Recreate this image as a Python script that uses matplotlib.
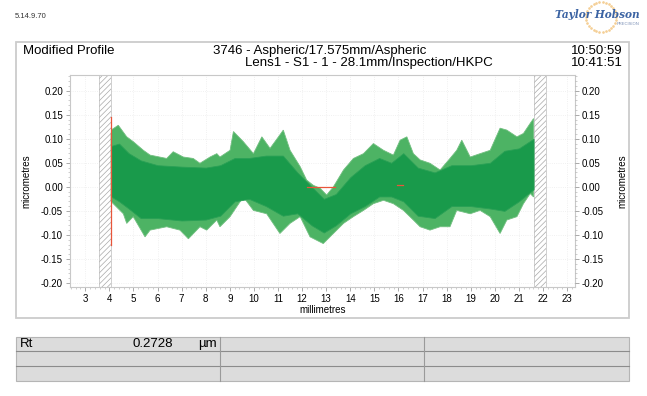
import numpy as np
import matplotlib
matplotlib.use("Agg")
import matplotlib.pyplot as plt
from matplotlib.patches import Rectangle
from matplotlib.ticker import MultipleLocator, FixedLocator

plt.rcParams['font.family'] = ['Liberation Sans', 'DejaVu Sans']
plt.rcParams['hatch.linewidth'] = 0.5

# ---------------- data ----------------
x_ticks = list(range(3, 24))
y_ticks = [-0.20, -0.15, -0.10, -0.05, 0.00, 0.05, 0.10, 0.15, 0.20]

# upper envelope of the profile spikes (mm, micrometres)
upper_x = [4.07, 4.10, 4.37, 4.72, 4.99, 5.41, 5.69, 6.38, 6.65, 7.07, 7.48, 7.76, 8.18,
           8.46, 8.59, 9.01, 9.15, 9.56, 9.98, 10.33, 10.67, 11.02, 11.22, 11.50, 11.92,
           12.19, 12.47, 12.75, 13.02, 13.30, 13.72, 14.13, 14.55, 14.96, 15.38, 15.79,
           16.07, 16.35, 16.62, 16.90, 17.31, 17.73, 18.14, 18.42, 18.63, 18.98, 19.39,
           19.81, 20.22, 20.50, 20.92, 21.19, 21.47, 21.61]
upper_y = [0.110, 0.119, 0.128, 0.104, 0.094, 0.076, 0.066, 0.059, 0.073, 0.062, 0.059,
           0.049, 0.062, 0.069, 0.062, 0.076, 0.115, 0.094, 0.069, 0.104, 0.080, 0.104,
           0.118, 0.076, 0.042, 0.014, 0.003, -0.003, -0.017, 0.000, 0.035, 0.059, 0.069,
           0.090, 0.076, 0.066, 0.097, 0.104, 0.069, 0.056, 0.049, 0.035, 0.059, 0.076,
           0.097, 0.062, 0.069, 0.076, 0.122, 0.118, 0.104, 0.111, 0.132, 0.142]

# lower envelope of the profile spikes
lower_x = [4.07, 4.16, 4.30, 4.58, 4.72, 4.99, 5.48, 5.69, 6.38, 6.93, 7.28, 7.76, 8.04,
           8.46, 8.59, 9.01, 9.56, 9.98, 10.53, 11.08, 11.50, 11.92, 12.33, 12.88, 13.30,
           13.72, 14.13, 14.55, 14.96, 15.38, 15.79, 16.21, 16.62, 16.90, 17.31, 17.73,
           18.14, 18.42, 18.98, 19.39, 19.81, 20.22, 20.50, 20.92, 21.19, 21.47, 21.61]
lower_y = [-0.030, -0.035, -0.042, -0.056, -0.076, -0.062, -0.104, -0.090, -0.083, -0.090,
           -0.108, -0.083, -0.090, -0.069, -0.083, -0.062, -0.021, -0.049, -0.056, -0.097,
           -0.076, -0.062, -0.104, -0.118, -0.097, -0.076, -0.062, -0.049, -0.035, -0.028,
           -0.035, -0.049, -0.069, -0.083, -0.090, -0.083, -0.083, -0.049, -0.056, -0.049,
           -0.062, -0.097, -0.069, -0.062, -0.035, -0.014, -0.021]

# solid core of the profile band
core_x = [4.07, 4.4, 4.8, 5.3, 6.0, 7.0, 8.0, 8.6, 9.2, 9.8, 10.5, 11.2, 11.8, 12.4,
          12.9, 13.4, 14.0, 14.6, 15.2, 15.7, 16.2, 16.8, 17.5, 18.2, 19.0, 19.8, 20.4,
          21.0, 21.61]
core_hi = [0.085, 0.090, 0.070, 0.055, 0.045, 0.042, 0.040, 0.045, 0.060, 0.060, 0.065,
           0.065, 0.030, 0.000, -0.025, -0.015, 0.020, 0.045, 0.060, 0.050, 0.070, 0.040,
           0.030, 0.045, 0.045, 0.050, 0.075, 0.080, 0.100]
core_lo = [-0.020, -0.030, -0.045, -0.065, -0.065, -0.070, -0.068, -0.060, -0.030, -0.025,
           -0.040, -0.060, -0.055, -0.080, -0.095, -0.080, -0.055, -0.040, -0.020, -0.020,
           -0.030, -0.060, -0.065, -0.040, -0.040, -0.045, -0.050, -0.030, -0.005]

# excluded (hatched) regions
excluded = [(3.55, 4.06), (21.64, 22.14)]

# red marker lines
rt_x = [4.07, 4.07]
rt_y = [-0.121, 0.146]
mark1_x = [12.19, 13.36]
mark1_y = [0.0, 0.0]
mark2_x = [15.93, 16.19]
mark2_y = [0.004, 0.004]

header_left = "Modified Profile"
header_mid1 = "3746 - Aspheric/17.575mm/Aspheric"
header_mid2 = "Lens1 - S1 - 1 - 28.1mm/Inspection/HKPC"
time1 = "10:50:59"
time2 = "10:41:51"
rt_label, rt_value, rt_unit = "Rt", "0.2728", "µm"

# ---------------- figure ----------------
W, H = 647, 396
fig = plt.figure(figsize=(W / 100, H / 100), dpi=100)
fig.patch.set_facecolor('white')

def fx(px):
    return np.asarray(px) / W

def fy(py):
    return 1 - np.asarray(py) / H

# outer frame
fig.patches.append(Rectangle((fx(16), fy(317.7)), fx(629) - fx(16), fy(41.7) - fy(317.7),
                             transform=fig.transFigure, fill=False, edgecolor='#cccccc',
                             linewidth=1.3, zorder=0))

fig.text(fx(15), fy(17), "5.14.9.70", fontsize=5.5, va='center', ha='left', color='#333333')

# logo
ang = np.linspace(0, 2 * np.pi, 30, endpoint=False)
fig.add_artist(plt.Line2D(fx(601 + 15 * np.cos(ang)), fy(17 + 15 * np.sin(ang)),
                          transform=fig.transFigure, linestyle='none', marker='o',
                          markersize=0.9, color='#f5cf96', zorder=0))
fig.text(fx(640), fy(15), "Taylor Hobson", fontsize=7.6, family='DejaVu Serif',
         style='italic', weight='bold', color='#3b63a3', ha='right', va='center')
fig.text(fx(640), fy(24), "PRECISION", fontsize=3.0, color='#7a8fb5', ha='right', va='center')

hfs = 9.5
fig.text(fx(22.7), fy(50.7), header_left, fontsize=hfs, ha='left', va='center')
fig.text(fx(213), fy(50.7), header_mid1, fontsize=hfs, ha='left', va='center')
fig.text(fx(245), fy(63.3), header_mid2, fontsize=hfs, ha='left', va='center')
fig.text(fx(622.7), fy(50.7), time1, fontsize=hfs, ha='right', va='center')
fig.text(fx(622.7), fy(63.3), time2, fontsize=hfs, ha='right', va='center')

# main axes
ax = fig.add_axes([fx(70), fy(286.7), fx(575) - fx(70), fy(75) - fy(286.7)])
ax.set_xlim(2.365, 23.33)
ax.set_ylim(-0.2077, 0.2326)

ax.grid(True, which='major', color='#ececec', linestyle=':', linewidth=0.6)
ax.set_axisbelow(True)

for x0, x1 in excluded:
    ax.axvspan(x0, x1, facecolor='white', edgecolor='#a8a8a8', hatch='//////',
               linewidth=0.0, zorder=1)
    ax.axvline(x0, color='#bcbcbc', linewidth=0.5, zorder=1)
    ax.axvline(x1, color='#bcbcbc', linewidth=0.5, zorder=1)

poly_x = np.concatenate([upper_x, lower_x[::-1]])
poly_y = np.concatenate([upper_y, lower_y[::-1]])
ax.fill(poly_x, poly_y, facecolor='#4db364', edgecolor='#72bf80', linewidth=0.6, zorder=2)
ax.fill_between(core_x, core_lo, core_hi, facecolor='#199a4b', edgecolor='#2aa056',
                linewidth=0.6, zorder=3)

ax.plot(rt_x, rt_y, color='#e8553a', linewidth=0.9, zorder=4)
ax.plot(mark1_x, mark1_y, color='#e8553a', linewidth=0.9, zorder=4)
ax.plot(mark2_x, mark2_y, color='#e8553a', linewidth=0.9, zorder=4)

for s in ax.spines.values():
    s.set_color('#c8c8c8')
    s.set_linewidth(0.8)

ax.xaxis.set_major_locator(FixedLocator(x_ticks))
ax.xaxis.set_minor_locator(MultipleLocator(0.2))
ax.yaxis.set_major_locator(FixedLocator(y_ticks))
ax.yaxis.set_minor_locator(MultipleLocator(0.01))
ax.set_xticklabels([str(v) for v in x_ticks])
ax.set_yticklabels([f"{v:.2f}" for v in y_ticks])
ax.tick_params(axis='both', which='major', labelsize=7, length=3, width=0.5,
               color='#888888', pad=2, direction='out')
ax.tick_params(axis='both', which='minor', length=1.5, width=0.4, color='#aaaaaa',
               direction='out')
ax.set_xlabel("millimetres", fontsize=7, labelpad=1)
ax.set_ylabel("micrometres", fontsize=7, labelpad=7)

ax2 = ax.twinx()
ax2.set_ylim(ax.get_ylim())
ax2.yaxis.set_major_locator(FixedLocator(y_ticks))
ax2.yaxis.set_minor_locator(MultipleLocator(0.01))
ax2.set_yticklabels([f"{v:.2f}" for v in y_ticks])
ax2.tick_params(axis='y', which='major', labelsize=7, length=3, width=0.5,
                color='#888888', pad=2)
ax2.tick_params(axis='y', which='minor', length=1.5, width=0.4, color='#aaaaaa')
ax2.set_ylabel("micrometres", fontsize=7, labelpad=10)
for s in ax2.spines.values():
    s.set_visible(False)

# results table
tab_left, tab_right = 16, 629
rows = [336.7, 351.3, 366.3, 381.3]
cols = [16, 220, 424.3, 629]
fig.patches.append(Rectangle((fx(tab_left), fy(rows[-1])), fx(tab_right) - fx(tab_left),
                             fy(rows[0]) - fy(rows[-1]), transform=fig.transFigure,
                             facecolor='#dcdcdc', edgecolor='#b5b5b5', linewidth=0.8))
for r in rows[1:-1]:
    fig.add_artist(plt.Line2D([fx(tab_left), fx(tab_right)], [fy(r), fy(r)],
                              transform=fig.transFigure, color='#8c8c8c', linewidth=0.8))
for c in cols[1:-1]:
    fig.add_artist(plt.Line2D([fx(c), fx(c)], [fy(rows[0]), fy(rows[-1])],
                              transform=fig.transFigure, color='#9a9a9a', linewidth=0.8))
fig.text(fx(20), fy(344), rt_label, fontsize=hfs, ha='left', va='center')
fig.text(fx(173), fy(344), rt_value, fontsize=hfs, ha='right', va='center')
fig.text(fx(198), fy(344), rt_unit, fontsize=hfs, ha='left', va='center')

fig.savefig("out.png", dpi=100)
